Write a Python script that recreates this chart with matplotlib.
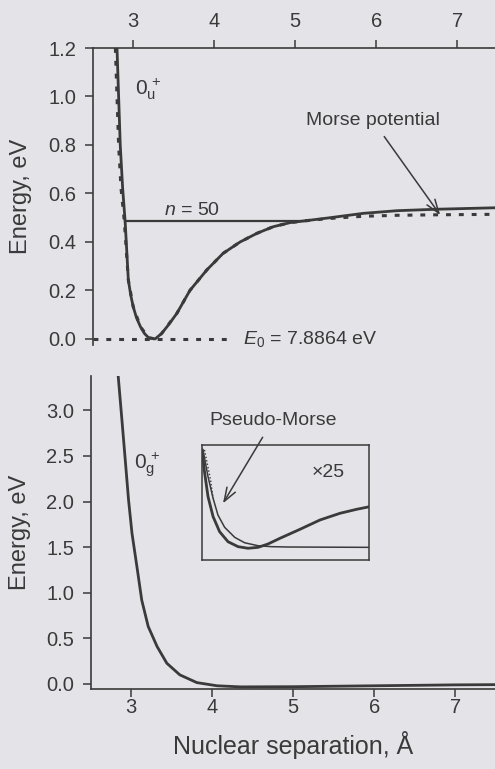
import matplotlib
matplotlib.use("Agg")
import matplotlib.pyplot as plt

plt.rcParams['font.family'] = ['Liberation Sans', 'DejaVu Sans']
plt.rcParams['mathtext.fontset'] = 'custom'
plt.rcParams['mathtext.rm'] = 'Liberation Sans'
plt.rcParams['mathtext.it'] = 'Liberation Sans:italic'

ink = '#3a3a3a'
paper = '#e3e3e8'

# upper panel, 0u+ state (energy in eV above E0)
r_upper = [2.80, 2.82, 2.84, 2.87, 2.90, 2.94, 2.97, 3.00, 3.04, 3.09, 3.14, 3.19, 3.27,
           3.35, 3.44, 3.54, 3.70, 3.91, 4.11, 4.32, 4.53, 4.73, 4.94, 5.14, 5.43,
           5.84, 6.26, 6.75, 7.47, 8.00]
e_upper = [1.20, 1.00, 0.80, 0.62, 0.487, 0.243, 0.18, 0.133, 0.088, 0.05, 0.022, 0.005, 0.0,
           0.022, 0.06, 0.106, 0.20, 0.285, 0.353, 0.40, 0.436, 0.463, 0.48, 0.488, 0.50,
           0.518, 0.529, 0.535, 0.541, 0.545]
r_morse = [2.78, 2.80, 2.82, 2.85, 2.89, 2.94, 3.00, 3.09, 3.19, 3.27, 3.35, 3.54, 3.70,
           3.91, 4.11, 4.32, 4.53, 4.73, 4.94, 5.14, 5.43, 5.84, 6.26, 6.75, 7.47, 8.00]
e_morse = [1.20, 1.00, 0.80, 0.62, 0.487, 0.243, 0.133, 0.05, 0.005, 0.0, 0.022, 0.106, 0.20,
           0.285, 0.353, 0.40, 0.436, 0.463, 0.48, 0.488, 0.497, 0.506, 0.510, 0.512, 0.514, 0.515]
n50_r = [2.90, 5.14]
n50_e = 0.487
e0_r = [2.50, 4.25]

# lower panel, 0g+ state
r_lower = [2.84, 2.885, 2.93, 2.967, 3.01, 3.07, 3.13, 3.21, 3.32, 3.44, 3.60, 3.81,
           4.06, 4.35, 5.00, 6.00, 7.00, 8.00]
e_lower = [3.37, 2.90, 2.42, 2.02, 1.65, 1.29, 0.92, 0.63, 0.41, 0.227, 0.10, 0.015,
           -0.02, -0.032, -0.03, -0.02, -0.01, -0.005]

# inset (x25), in inset box fractions
in_x_real = [0.003, 0.019, 0.039, 0.069, 0.108, 0.158, 0.218, 0.277, 0.337, 0.396, 0.468,
             0.587, 0.706, 0.825, 0.925, 1.0]
in_y_real = [0.957, 0.754, 0.550, 0.377, 0.246, 0.159, 0.116, 0.102, 0.110, 0.139, 0.189,
             0.267, 0.348, 0.406, 0.441, 0.463]
in_x_pm = [0.009, 0.039, 0.069, 0.098, 0.138, 0.198, 0.257, 0.337, 0.416, 0.515, 1.0]
in_y_pm = [0.957, 0.724, 0.537, 0.391, 0.284, 0.197, 0.150, 0.124, 0.116, 0.113, 0.110]
in_x_dot = [0.018, 0.036, 0.054, 0.069]
in_y_dot = [0.957, 0.826, 0.696, 0.537]

upper_yticks = [0.0, 0.2, 0.4, 0.6, 0.8, 1.0, 1.2]
lower_yticks = [0.0, 0.5, 1.0, 1.5, 2.0, 2.5, 3.0]
xticks = [3, 4, 5, 6, 7]

fig = plt.figure(figsize=(4.95, 7.69), dpi=100, facecolor=paper)
W, H = 495.0, 769.0

ax1 = fig.add_axes([92.7 / W, 1 - 345 / H, 445.5 / W, (345 - 48) / H])
ax2 = fig.add_axes([90.7 / W, 1 - 688.7 / H, 445.5 / W, (688.7 - 376) / H])

for ax in (ax1, ax2):
    ax.set_facecolor('none')
    ax.set_xlim(2.5, 8.0)
    ax.set_xticks(xticks)
    ax.tick_params(direction='out', length=6, width=1.1, color=ink, labelcolor=ink,
                   labelsize=14.5)
    ax.tick_params(axis='y', pad=6)
    for s in ax.spines.values():
        s.set_color(ink)
        s.set_linewidth(1.2)
    ax.spines['right'].set_visible(False)

# upper panel
ax1.set_ylim(-0.025, 1.2)
ax1.set_yticks(upper_yticks)
ax1.set_yticklabels(['%.1f' % v for v in upper_yticks])
ax1.xaxis.tick_top()
ax1.tick_params(axis='x', pad=6)
ax1.spines['bottom'].set_visible(False)

dots = (0, (1.6, 2.6))
ax1.plot(r_morse, e_morse, color=ink, lw=2.2, ls=dots, dash_capstyle='butt')
ax1.plot(e0_r, [0, 0], color=ink, lw=2.2, ls=dots, dash_capstyle='butt')
ax1.plot(n50_r, [n50_e, n50_e], color=ink, lw=1.6)
ax1.plot(r_upper, e_upper, color=ink, lw=2.0)

ax1.text(3.02, 1.03, r'$0_{\mathrm{u}}^{\,+}$', fontsize=15, color=ink, va='center')
ax1.text(3.72, 0.53, r'$n$ = 50', fontsize=14, color=ink, ha='center', va='center')
ax1.text(4.36, 0.0, r'$E_0$ = 7.8864 eV', fontsize=14, color=ink, va='center')
ax1.annotate('Morse potential', xy=(6.79, 0.511), xytext=(5.96, 0.90),
             fontsize=14, color=ink, ha='center', va='center',
             arrowprops=dict(arrowstyle='->,head_length=0.7,head_width=0.25',
                             color=ink, lw=1.1, shrinkA=4, shrinkB=0))
ax1.set_ylabel('Energy, eV', fontsize=17, color=ink)
ax1.yaxis.set_label_coords((32 - 92.7) / 445.5, 0.5)

# lower panel
ax2.set_ylim(-0.052, 3.377)
ax2.set_yticks(lower_yticks)
ax2.set_yticklabels(['%.1f' % v for v in lower_yticks])
ax2.tick_params(axis='x', pad=1)
ax2.spines['top'].set_visible(False)
ax2.plot(r_lower, e_lower, color=ink, lw=2.0)
ax2.text(3.04, 2.40, r'$0_{\mathrm{g}}^{\,+}$', fontsize=15, color=ink, va='center')
ax2.set_ylabel('Energy, eV', fontsize=17, color=ink)
ax2.yaxis.set_label_coords((31 - 90.7) / 445.5, 0.5)
fig.text(293 / W, 1 - 745 / H, 'Nuclear separation, \u00c5', fontsize=18, color=ink,
         ha='center', va='center')

# inset
ax3 = fig.add_axes([201.5 / W, 1 - 560 / H, 167.8 / W, 115 / H])
ax3.set_facecolor('none')
ax3.set_xlim(0, 1)
ax3.set_ylim(0, 1)
ax3.set_xticks([])
ax3.set_yticks([])
for s in ax3.spines.values():
    s.set_color(ink)
    s.set_linewidth(1.1)
ax3.plot(in_x_dot, in_y_dot, color=ink, lw=1.0, ls=(0, (1, 1.5)))
ax3.plot(in_x_pm, in_y_pm, color=ink, lw=1.1)
ax3.plot(in_x_real, in_y_real, color=ink, lw=2.0)
ax3.text(0.754, 0.757, '\u00d725', fontsize=14, color=ink, ha='center', va='center')
ax3.annotate('Pseudo-Morse', xy=(0.128, 0.493), xytext=(0.426, 1.217),
             fontsize=14, color=ink, ha='center', va='center', annotation_clip=False,
             arrowprops=dict(arrowstyle='->,head_length=0.7,head_width=0.25',
                             color=ink, lw=1.1, shrinkA=5, shrinkB=0))

fig.savefig('out.png', dpi=100, facecolor=paper)
